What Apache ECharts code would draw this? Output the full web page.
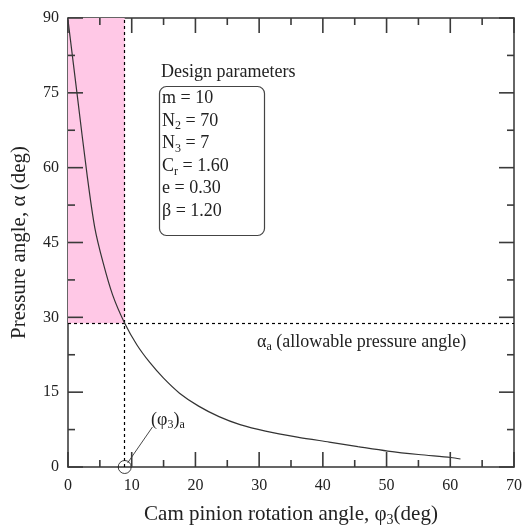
<!DOCTYPE html>
<html>
<head>
<meta charset="utf-8">
<script src="https://cdn.jsdelivr.net/npm/echarts@6/dist/echarts.min.js"></script>
<style>
	html, body { margin: 0; padding: 0; background: #fff; }
	#chart { width: 525px; height: 532px; }
</style>
</head>
<body>
<div id="chart"></div>
<script>
// curve: cam pinion angle (deg) vs pressure angle (deg)
var phi   = [0, 1.5, 3.0, 4.2, 5.5, 7.0, 8.9, 10.8, 12.8, 15, 17.5, 20.5, 23.7, 27, 31, 36, 41, 45.5, 50.2, 55, 60.1, 61.6];
var alpha = [89.6, 74, 58.5, 48, 41, 34.5, 28.8, 24.5, 21.0, 17.8, 14.8, 12.2, 10.1, 8.5, 7.2, 6.0, 5.0, 4.1, 3.2, 2.5, 1.9, 1.6];
// allowable point
var phiA = 8.9;
var alphaA = 28.8;
// leader line of the (phi3)a note
var leaderPhi = [9.35, 13.25];
var leaderAlpha = [0.8, 8.0];
// design parameter box lines
var paramLines = ['m = 10', 'N{s|2} = 70', 'N{s|3} = 7', 'C{s|r} = 1.60', 'e = 0.30', 'β = 1.20'];
var xTicks = [0, 10, 20, 30, 40, 50, 60, 70];
var yTicks = [0, 15, 30, 45, 60, 75, 90];

function loadChart(){
	var chart = echarts.init(document.getElementById('chart'));
	var font = 'Liberation Serif';
	var curve = phi.map(function(p, i){ return [p, alpha[i]]; });
	var leader = leaderPhi.map(function(p, i){ return [p, leaderAlpha[i]]; });
	var sub = { fontSize: 12, lineHeight: 10, verticalAlign: 'bottom', fontFamily: font, fill: '#222', color: '#222' };
	var xMin = xTicks[0], xMax = xTicks[xTicks.length - 1];
	var yMin = yTicks[0], yMax = yTicks[yTicks.length - 1];

	// major ticks plus minor ticks halfway between them
	var withMinor = function(ticks){
		var out = [];
		ticks.forEach(function(t, i){
			out.push(t);
			if (i < ticks.length - 1) out.push((t + ticks[i + 1]) / 2);
		});
		return out;
	};
	var tickLen = function(ticks, v){
		return ticks.indexOf(v) >= 0 ? 15 : 7;
	};
	var tickStyle = { stroke: '#3a3a3a', lineWidth: 1.6 };

	// inward ticks on all four sides, drawn through the axes' own scales
	var xTickItem = function(params, api){
		var v = api.value(0), len = tickLen(xTicks, v);
		var b = api.coord([v, yMin]), t = api.coord([v, yMax]);
		return { type: 'group', children: [
			{ type: 'line', shape: { x1: b[0], y1: b[1], x2: b[0], y2: b[1] - len }, style: tickStyle },
			{ type: 'line', shape: { x1: t[0], y1: t[1], x2: t[0], y2: t[1] + len }, style: tickStyle }
		] };
	};
	var yTickItem = function(params, api){
		var v = api.value(1), len = tickLen(yTicks, v);
		var l = api.coord([xMin, v]), r = api.coord([xMax, v]);
		return { type: 'group', children: [
			{ type: 'line', shape: { x1: l[0], y1: l[1], x2: l[0] + len, y2: l[1] }, style: tickStyle },
			{ type: 'line', shape: { x1: r[0], y1: r[1], x2: r[0] - len, y2: r[1] }, style: tickStyle }
		] };
	};

	var frameAxis = function(pos, ticks, showLabel){
		return {
			type: 'value',
			position: pos,
			min: ticks[0],
			max: ticks[ticks.length - 1],
			interval: ticks[1] - ticks[0],
			axisLine: { show: true, onZero: false, lineStyle: { color: '#333', width: 1.5 } },
			axisTick: { show: false },
			splitLine: { show: false },
			axisLabel: { show: showLabel, fontFamily: font, fontSize: 16, color: '#222' }
		};
	};

	var xBottom = frameAxis('bottom', xTicks, true);
	xBottom.axisLabel.margin = 11;
	xBottom.name = 'Cam pinion rotation angle, φ{s|3}(deg)';
	xBottom.nameLocation = 'middle';
	xBottom.nameGap = 34;
	xBottom.nameTextStyle = { fontFamily: font, fontSize: 21, color: '#222', lineHeight: 26,
		rich: { s: { fontSize: 14, lineHeight: 12, verticalAlign: 'bottom', fontFamily: font, color: '#222' } } };

	var yLeft = frameAxis('left', yTicks, true);
	yLeft.axisLabel.margin = 9;
	yLeft.name = 'Pressure angle, α (deg)';
	yLeft.nameLocation = 'middle';
	yLeft.nameGap = 38;
	yLeft.nameTextStyle = { fontFamily: font, fontSize: 21, color: '#222' };

	var option = {
		animation: false,
		backgroundColor: '#fff',
		grid: { left: 68, right: 8, top: 18, bottom: 65 },
		xAxis: [xBottom, frameAxis('top', xTicks, false)],
		yAxis: [yLeft, frameAxis('right', yTicks, false)],
		series: [
			{
				type: 'line',
				data: curve,
				showSymbol: false,
				smooth: 0.3,
				lineStyle: { color: '#333', width: 1.2 },
				z: 5,
				markArea: {
					silent: true,
					itemStyle: { color: '#ffc8e6' },
					data: [[{ coord: [0, alphaA] }, { coord: [phiA, yMax] }]]
				},
				markLine: {
					silent: true,
					symbol: ['none', 'none'],
					label: { show: false },
					lineStyle: { color: '#000', type: [3, 3], width: 1.2 },
					data: [{ xAxis: phiA }, { yAxis: alphaA }]
				}
			},
			{
				type: 'line',
				data: leader,
				showSymbol: false,
				lineStyle: { color: '#333', width: 0.9 },
				z: 6
			},
			{
				type: 'scatter',
				data: [[phiA, 0]],
				symbol: 'circle',
				symbolSize: 13,
				clip: false,
				itemStyle: { color: 'rgba(0,0,0,0)', borderColor: '#111', borderWidth: 1 },
				z: 7
			},
			{
				type: 'custom',
				silent: true,
				clip: false,
				data: withMinor(xTicks).map(function(v){ return [v, yMin]; }),
				renderItem: xTickItem,
				z: 8
			},
			{
				type: 'custom',
				silent: true,
				clip: false,
				data: withMinor(yTicks).map(function(v){ return [xMin, v]; }),
				renderItem: yTickItem,
				z: 8
			}
		],
		graphic: [
			{
				type: 'text', left: 161, top: 63,
				style: { text: 'Design parameters', font: '18px "Liberation Serif"', fill: '#222' }
			},
			{
				type: 'rect', left: 157, top: 84,
				shape: { width: 105, height: 149, r: 7 },
				style: { fill: 'none', stroke: '#444', lineWidth: 1.2 }
			},
			{
				type: 'text', left: 162, top: 87,
				style: {
					text: paramLines.join('\n'),
					font: '18px "Liberation Serif"',
					lineHeight: 22.6,
					fill: '#222',
					rich: { s: sub }
				}
			},
			{
				type: 'text', left: 257, top: 331,
				style: {
					text: 'α{s|a} (allowable pressure angle)',
					font: '18px "Liberation Serif"',
					lineHeight: 22,
					fill: '#222',
					rich: { s: sub }
				}
			},
			{
				type: 'text', left: 151, top: 409,
				style: {
					text: '(φ{s|3}){s|a}',
					font: '18px "Liberation Serif"',
					lineHeight: 22,
					fill: '#222',
					rich: { s: sub }
				}
			}
		]
	};
	chart.setOption(option);
}
loadChart();
</script>
</body>
</html>
